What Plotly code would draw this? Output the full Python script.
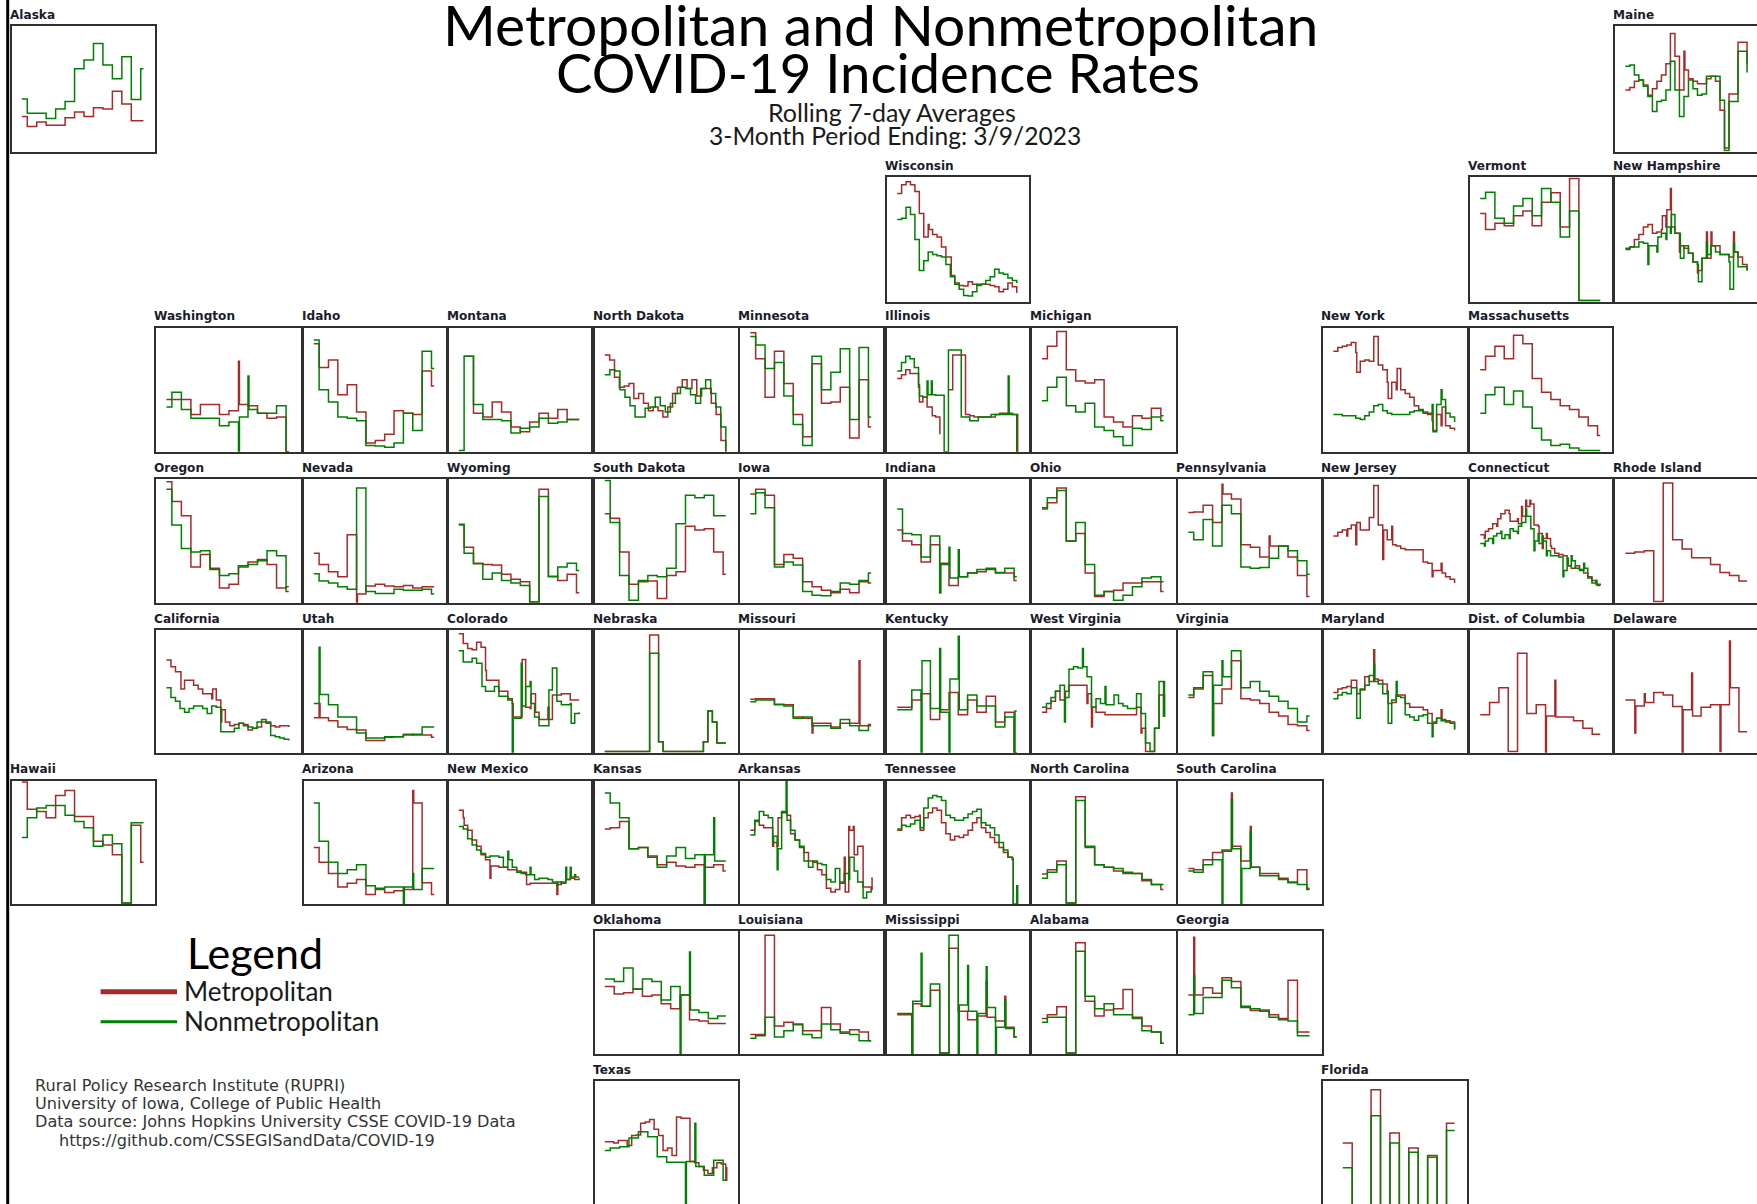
import plotly.graph_objects as go

W, H = 1757, 1204
METRO = "#A52A2A"
NONMETRO = "#008000"

ALASKA_M = [28,20,23.6,21,21,27,31.6,28,35,34,48,38,24.7,24.7]
ALASKA_N = [42,30.5,30.5,26.5,34,40,66,73,86,69,58,75.5,41.6,66]
MAINE_M = [49,51,56,57,53,45,50,56,61,70,94,76,49,(65,80),58,56,54,54,58,60,56,33,3,46,46,87,87,70]
MAINE_N = [68,69,61,57,52,44,32,40,41,49,72,49,28,44,57,50,45,46,60,60,60,41,1,40,40,80,80,63]
WISCONSIN_M = [87,94,96.5,94,88.5,71,52,(58,62),54,52,44,36,(21,36),15,13,12.6,16,14,13,14,14,13,12,8,10,15,12,7]
WISCONSIN_N = [66,67,76,70,50,25,33,40,38,37,36,30,20,14,10,5,4.5,8,14,14,17,20,26,23,22,19,17,15]
VERMONT_M = [71,58,63,61,69,73,61,80,87.5,60,99,1,1,1]
VERMONT_N = [83,88,67,63,77,83,69,91,80,52,73,1,1,1]
NEW_HAMPSHIRE_M = [42,44,50,54,60,62,55,56,(69,58),(74,60),(60,91),55,(45,40),43,39,32,(25,23),35,(35,56),(45,56),45,38,38,36,(40,56),36,30,25]
NEW_HAMPSHIRE_N = [43,44,44,48,47,(45,30),45,(52,40),55,(60,50),(70,55),55,(35,55),45,39,32,(16,30),35,(38,48),45,40,38,38,(10,32),(40,47),28,28,25]
WASHINGTON_M = [42,42,42,30,38,38,30,33,(38,73),37,31,27,28,0]
WASHINGTON_N = [36,48,34,27,27,27,21,24,(28,0),(34,61),31,31,37,0]
IDAHO_M = [87,68,74,46,54,32,7,9,14,33,31,30,65,53]
IDAHO_N = [90,50,40,28,27,25,5,4.5,3.5,7,31,17,81,67]
MONTANA_M = [None,77,31,28,40,32,20,16,24,31,27,34,26,26]
MONTANA_N = [1,77,38,26,26,25,15,19,20,27,23,24,26,26]
NORTH_DAKOTA_M = [78,74,60,52,53,55,43,47,39,33,36,33,28,36,47,52,58,51,58,45,51,51,39,30,9,0]
NORTH_DAKOTA_N = [62,66,65,50,44,37,28,28,35,36,44,37,32,39,47,52,51,46,39,51,58,47,36,20,0]
MINNESOTA_M = [96,75,44,81,55,30,12,71,39,40,52,11,58,20]
MINNESOTA_N = [93,86,67,72,45,22,5,77,50,64,83,26,84,28]
ILLINOIS_M = [59,62,66,63,63,(40,54),44,36,(29,36),28,14,None,(50,50),78,78,78,30,29,28,28,28,28,28,30,31,31,31,30,(30,0)]
ILLINOIS_N = [65,72,77,75,68,(45,52),44,(46,57),(46,57),45.5,45.5,0,82,82,82,28,28,25,25,28,28,28,30,30,30,30,(30,61),30,0]
MICHIGAN_M = [75,85,97,66,57,55.5,58,28,24,20,29,27,35,29]
MICHIGAN_N = [41,52,60,37,32,39,20,17,12,5,19,18,28,25]
NEW_YORK_M = [81,84,85,86,88,(64,80),73,74,73,93,70,66,(43,56),56,(67,50),50,47,44,37,34,32,30,(17,25),30,(36,21),21,19,17]
NEW_YORK_N = [30,30,29,29,29,27,26,29,32,37,38,33,31,30,30,30,30,32,33,33,31,31,(16,38),38,(42,50),31,28,24]
MASSACHUSETTS_M = [66,77,85,75,94,87,59,48,42,37,34,28,21,13]
MASSACHUSETTS_N = [31,46,52,38,49,36,19,9.5,5,6,3,1,1,1]
OREGON_M = [98,82,70.5,29,39,28,12,15,30,33,35,31,12,13]
OREGON_N = [92,63,44,41,42,27,22,23.5,29,31,34,42,38,9]
NEVADA_M = [40,31,25,21,55,(7,0),13.5,15,13.5,13,14,12,13,13]
NEVADA_N = [23.5,17.5,16,13,11,93,9,7.5,7.5,11,10,10,11,7]
WYOMING_M = [63,45,32,31,30.5,23,19,17,0.5,92,21.5,18,23,8]
WYOMING_N = [63.5,40,31.5,19,24,18,16,14,0.5,86,21,29,32,26]
SOUTH_DAKOTA_M = [72,68.5,41,15,17,17.5,3.5,22,25,62,59,60,41,23]
SOUTH_DAKOTA_N = [99,65,22,2,18,22,21,28,64,87,85,87,70.5,70.5]
IOWA_M = [88,92,87,31,39,36,17,13,10,8,11,8,17,16]
IOWA_N = [72,89,77,29,33,30.5,9,6,5.7,9,16,15,18,24]
INDIANA_M = [59,50,47,33,47,(32,8),14,21,24,25,27,24,24,18]
INDIANA_N = [76,56,55,37,54,(31,8),(20,45),(21,43),24,27,28,24.5,28,21]
OHIO_M = [76,81,93,50,56,24,5,9,10,16,16,17,17,9]
OHIO_N = [77,85,91,50,65,31,6,9,2,6,13,20,21,17]
PENNSYLVANIA_M = [73,73.5,79,65,(88,96),84,47,45,37,(46,54),46,37,22,5]
PENNSYLVANIA_N = [57,51,67.5,46,79,72,29,28,28.5,36,46,42,34,23]
NEW_JERSEY_M = [54,57,59,(60,54),63,(65,47),59,59,69,95,63,(59,35),51,(47,62),46,44,43,43,43,43,33,32,(26,21),26,(24,32),21,19,16]
NEW_JERSEY_N = []
CONNECTICUT_M = [55,(58,52),60,64,(68,62),72,75,(66,72),66,(64,68),(70,78),(78,83),(80,83),63,(56,62),(52,44),(52,56),(44,46),40,39,38,(30,36),28,30,27,24,21,18,15,14]
CONNECTICUT_N = [48,(50,46),52,(54,48),56,(52,58),55,(60,52),58,(62,56),65,(70,76),(60,70),(50,42),(48,56),(50,54),(42,38),38,38,37,(26,21),(30,36),(34,38),28,26,(28,32),20,16,(14,18),14]
RHODE_ISLAND_M = [40,41,42,1,97,51,43.5,36.5,36.5,31,24.5,22,17.5]
RHODE_ISLAND_N = []
CALIFORNIA_M = [75.5,70,66,(52,66),59,59,55,52,48,48,(52,44),43,(35,25),25,22,23,24,23,18.5,20,21,25,25,22,21,22,22,21]
CALIFORNIA_N = [53,45,42,36,33,36,38,38,36,32,38,37,17,17,17,20,24,22,21,20,25,27,24,14,13,12,11,10]
UTAH_M = [28.5,(28.5,40),26,21,19,18.5,10,10,12.5,13,15,14.5,14.5,12.5]
UTAH_N = [40,(47.5,86),39,29,29,16,12,12,13,13,14.5,15,21,21]
COLORADO_M = [97,89,85,84,90,86,(59,67),59,59,50,50,44,(29,40),29,(76,29),37,(48,36),(33,48),27,27,(27,37),47,47,48,48,43,43,43]
COLORADO_N = [83,74,74,77,73,(54,73),50,50,54,46,46,43,(28,0),28,(38,73),54,(40,58),29,22,22,(51,22),69,42,39,39,(24,40),32,33]
NEBRASKA_M = [1,1,1,1,1,1,1,1,1,1,96,96,9,1,1,1,1,1,1,1,1,1,9,34,25,8,8,8]
NEBRASKA_N = [1,1,1,1,1,1,1,1,1,1,81,81,9,1,1,1,1,1,1,1,1,1,9,34,25,8,8,8]
MISSOURI_M = [43.5,44,44,39,39,29,28,(24,16),24,21,24,24,(22,75),23]
MISSOURI_N = [41.6,43,43,39.5,38,28,29,22,22,20,27,22,18,22]
KENTUCKY_M = [37,37,43,48,27,35,49,31,43,33,46,25,33,0]
KENTUCKY_N = [35,35,51,(75,0),36,(33,85),(60,0),(35,95),47,38,38,21,29,(34,0)]
WEST_VIRGINIA_M = [33,36,42,50,43,(50,43),55,55,55,55,(48,40),(37,21),33,33,31,31,31,31,31,31,31,37,(20,16),1,1,20,47,(47,30)]
WEST_VIRGINIA_N = [37,40,45,50,55,(45,25),68,70,69,(70,85),62,37,44,40,(39,54),39,47,40,38,36,36,48,32,8,1,20,58,(58,30)]
VIRGINIA_M = [45,52,63,(40,14),52,75,44,43,40,33,30,23,22,18]
VIRGINIA_N = [47,53,66,(55,14),(62,75),83,53,58,50,46,42,36,25,30]
MARYLAND_M = [49,52,53,54,59,(48,59),51,62,58,(60,84),59,56,(40,50),41,47,47,40,37,37,37,35,32,25,28,(27,35),26,25,19]
MARYLAND_N = [44,47,49,48,53,(28,53),52,55,63,(58,72),56,48,(24,50),43,(46,58),45,31,29,26.5,30,31,24,(24,13),28,26,25,24,19]
DIST_OF_COLUMBIA_M = [31,41,53,1,81,32,39,(30,0),(29,59),29,26,20,15]
DIST_OF_COLUMBIA_N = []
DELAWARE_M = [43,(38,16),(41,48),49,47,37.6,(35,0),(30,65),37,39,(39,1),(53,91),17]
DELAWARE_N = []
HAWAII_M = [99,77,75,70,88,92,71,71,51,48,40,1,64,34]
HAWAII_N = [54,70,78,80,80,72,67,62,47,56,49,1,66,66]
ARIZONA_M = [46,34,25,14,17,20,8,12,9.5,11,12,(82,92),17.5,8]
ARIZONA_N = [82,51,34,25,28,32,15,13,14,14,(14,0),(12,25),29,29]
NEW_MEXICO_M = [76,(64,70),60,52,47,40,36,(31,21),31,30,30,28,28,27,26,(16,26),17,17,17,17,17,17,(16,8),18,20,21,20,21]
NEW_MEXICO_N = [63,61,53,48,44,41,38,39,39,38,30,(36,43),30,26,25,24,(24,30),20,21,21,20,18,(18,15),17,(20,30),(22,30),(22,24),22]
KANSAS_M = [61,62,67,45,46,39,32,34,31,30,32,(30,0),32,27]
KANSAS_N = [90,82,70,45,46,38,30,39,46,37,40,(40,0),(35,70),35]
ARKANSAS_M = [60,67,64,62,62,(50,47),(70,47),75,(72,75),57,52,46,42,35,34,28,24,13,10,12,17,(10,38),(60,63),(40,63),47,(14,47),14,(21,12)]
ARKANSAS_N = [56,68,75,72,70,(55,50),(45,28),74,(68,100),60,52,47,35,30,35,33,32,20,18,29,18,25,(38,20),(27,38),18,(5,18),10,12]
TENNESSEE_M = [60,70,72,70,71,(60,72),70,74,78,76,66,57,52,55,54,56,60,66,70,62,58,54,50,46,42,38,(0,36),0]
TENNESSEE_N = [61,64,63,65,68,(62,68),78,86,88,87,84,72,70,68,68,70,73,75,77,66,64,62,56,50,44,38,(0,37),(0,15)]
NORTH_CAROLINA_M = [24.5,28,35,1,87,46,32,30,27,25,25,19,16,12]
NORTH_CAROLINA_N = [21,26,32,1,84,47,32,30,29,26,25,20,16,16]
SOUTH_CAROLINA_M = [29,28,36,42,44,(47,90),35,(30,63),25,25,21,18,28,13]
SOUTH_CAROLINA_N = [27,26,32,36,(43,0),(45,85),(29,0),(30,59),23,23,20,17.5,16,12]
OKLAHOMA_M = [55,49,50,53,47,48,41,37,48,28,27,25,25]
OKLAHOMA_N = [61,59,70,53,61,59,44,55,(48,0),(36,83),34,29,31]
LOUISIANA_M = [16,16,96.5,23,26,24,19,19,38,24.5,18,20,18,11]
LOUISIANA_N = [13,15,30,14,19,24.5,16,13.5,24.5,20,17,16,11,11]
MISSISSIPPI_M = [32,32,(41,0),39,52,1,86,35,28,31,(30,59),27,(22,47),14]
MISSISSIPPI_N = [33,33,(43,0),(39,82),57,1,96.5,(40,0),(35,72),(33,0),(38,71),(22,0),(21,44),14]
ALABAMA_M = [29,32,38.5,1,90.5,43,31,36,37,52.5,30,23,18,9]
ALABAMA_N = [26,30,30,1,83.5,47,37,41,32,32,29,19,18,9]
GEORGIA_M = [48,(48,95),54,49.5,62,59,38,35.5,36,32,29,60,18,18]
GEORGIA_N = [32,(33,64),46,46,60,54,39,37,35,30,28,27,15,15]
TEXAS_M = [51,51,50,52,52,48,56,56.5,66,67,69,61,56,44,46,40,71,70,70,35,34,31,28,25.5,30,34,33,(30,20)]
TEXAS_N = [44,46,47,54,59,55,39,34.4,34.4,(35,0),(31,66),24,36,20]
FLORIDA_M = [None,50,0,0,93,0,58,0,46,0,38.5,0,66]
FLORIDA_N = [None,30,0,0,72,0,50,0,42.5,0,40,0,60]

COL_L = [11.5,156,303.5,448.5,594.5,740,887,1031.6,1178,1323,1470,1615]
COL_R = [155.4,300.8,446,591,737.7,883,1028.5,1175.5,1321.5,1466.5,1612,1759]
ROW_T = [26,177.3,327.7,479.3,630,780.7,931,1081]
ROW_B = [151.7,301.7,451.7,602.7,752.7,904.3,1054.3,1205]

PANELS = [
    ("Alaska",0,0,ALASKA_M,ALASKA_N),("Maine",0,11,MAINE_M,MAINE_N),
    ("Wisconsin",1,6,WISCONSIN_M,WISCONSIN_N),("Vermont",1,10,VERMONT_M,VERMONT_N),
    ("New Hampshire",1,11,NEW_HAMPSHIRE_M,NEW_HAMPSHIRE_N),
    ("Washington",2,1,WASHINGTON_M,WASHINGTON_N),("Idaho",2,2,IDAHO_M,IDAHO_N),
    ("Montana",2,3,MONTANA_M,MONTANA_N),("North Dakota",2,4,NORTH_DAKOTA_M,NORTH_DAKOTA_N),
    ("Minnesota",2,5,MINNESOTA_M,MINNESOTA_N),("Illinois",2,6,ILLINOIS_M,ILLINOIS_N),
    ("Michigan",2,7,MICHIGAN_M,MICHIGAN_N),("New York",2,9,NEW_YORK_M,NEW_YORK_N),
    ("Massachusetts",2,10,MASSACHUSETTS_M,MASSACHUSETTS_N),
    ("Oregon",3,1,OREGON_M,OREGON_N),("Nevada",3,2,NEVADA_M,NEVADA_N),
    ("Wyoming",3,3,WYOMING_M,WYOMING_N),("South Dakota",3,4,SOUTH_DAKOTA_M,SOUTH_DAKOTA_N),
    ("Iowa",3,5,IOWA_M,IOWA_N),("Indiana",3,6,INDIANA_M,INDIANA_N),("Ohio",3,7,OHIO_M,OHIO_N),
    ("Pennsylvania",3,8,PENNSYLVANIA_M,PENNSYLVANIA_N),("New Jersey",3,9,NEW_JERSEY_M,NEW_JERSEY_N),
    ("Connecticut",3,10,CONNECTICUT_M,CONNECTICUT_N),("Rhode Island",3,11,RHODE_ISLAND_M,RHODE_ISLAND_N),
    ("California",4,1,CALIFORNIA_M,CALIFORNIA_N),("Utah",4,2,UTAH_M,UTAH_N),
    ("Colorado",4,3,COLORADO_M,COLORADO_N),("Nebraska",4,4,NEBRASKA_M,NEBRASKA_N),
    ("Missouri",4,5,MISSOURI_M,MISSOURI_N),("Kentucky",4,6,KENTUCKY_M,KENTUCKY_N),
    ("West Virginia",4,7,WEST_VIRGINIA_M,WEST_VIRGINIA_N),("Virginia",4,8,VIRGINIA_M,VIRGINIA_N),
    ("Maryland",4,9,MARYLAND_M,MARYLAND_N),("Dist. of Columbia",4,10,DIST_OF_COLUMBIA_M,DIST_OF_COLUMBIA_N),
    ("Delaware",4,11,DELAWARE_M,DELAWARE_N),
    ("Hawaii",5,0,HAWAII_M,HAWAII_N),("Arizona",5,2,ARIZONA_M,ARIZONA_N),
    ("New Mexico",5,3,NEW_MEXICO_M,NEW_MEXICO_N),("Kansas",5,4,KANSAS_M,KANSAS_N),
    ("Arkansas",5,5,ARKANSAS_M,ARKANSAS_N),("Tennessee",5,6,TENNESSEE_M,TENNESSEE_N),
    ("North Carolina",5,7,NORTH_CAROLINA_M,NORTH_CAROLINA_N),("South Carolina",5,8,SOUTH_CAROLINA_M,SOUTH_CAROLINA_N),
    ("Oklahoma",6,4,OKLAHOMA_M,OKLAHOMA_N),("Louisiana",6,5,LOUISIANA_M,LOUISIANA_N),
    ("Mississippi",6,6,MISSISSIPPI_M,MISSISSIPPI_N),("Alabama",6,7,ALABAMA_M,ALABAMA_N),
    ("Georgia",6,8,GEORGIA_M,GEORGIA_N),
    ("Texas",7,4,TEXAS_M,TEXAS_N),("Florida",7,9,FLORIDA_M,FLORIDA_N),
]

DAYS = 90


def day_grid(n):
    if n == 14:
        return [0.0] + [4.0 + 7.0 * k for k in range(13)]
    if n == 13:
        return [7.0 * k for k in range(13)]
    return [DAYS * k / (n - 1) for k in range(n)]


def expand(values):
    """Turn a series into step-line points; (level, spike) adds a vertical spike at that day."""
    xs, ys = [], []
    if not values:
        return xs, ys
    grid = day_grid(len(values))
    for t, v in zip(grid, values):
        if isinstance(v, tuple):
            xs += [t, t + 0.7]
            ys += [v[1], v[0]]
        else:
            xs.append(t)
            ys.append(v)
    xs.append(DAYS)
    ys.append(ys[-1])
    return xs, ys


fig = go.Figure()
layout = {}
notes = []
LBL_FONT = dict(family="DejaVu Sans", size=12.1, color="#1c1c2c", weight="bold")

for i, (name, row, col, metro, nonmetro) in enumerate(PANELS, start=1):
    l, r = COL_L[col], COL_R[col]
    t, b = ROW_T[row], ROW_B[row]
    pw, ph = r - l, b - t
    r_c, b_c = min(r, W), min(b, H)
    ppd = 0.845 * pw / DAYS
    x_lo = -0.072 * pw / ppd
    x_hi = x_lo + (r_c - l) / ppd
    y_lo = 100 - (b_c - t) * 100 / ph
    sfx = "" if i == 1 else str(i)
    layout["xaxis" + sfx] = dict(
        domain=[l / W, r_c / W], range=[x_lo, x_hi], anchor="y" + sfx,
        showticklabels=False, ticks="", showgrid=False, zeroline=False,
        showline=True, linecolor="#303030", linewidth=1.5,
        mirror=b <= H, side="bottom" if b <= H else "top", fixedrange=True)
    layout["yaxis" + sfx] = dict(
        domain=[1 - b_c / H, 1 - t / H], range=[y_lo, 100], anchor="x" + sfx,
        showticklabels=False, ticks="", showgrid=False, zeroline=False,
        showline=True, linecolor="#303030", linewidth=1.5,
        mirror=r <= W, fixedrange=True)
    for series, colour, label in ((metro, METRO, "Metropolitan"), (nonmetro, NONMETRO, "Nonmetropolitan")):
        xs, ys = expand(series)
        if xs:
            fig.add_trace(go.Scatter(
                x=xs, y=ys, mode="lines", name=f"{name} {label}", showlegend=False,
                line=dict(color=colour, width=1.5, shape="hv"),
                xaxis="x" + sfx, yaxis="y" + sfx, connectgaps=False, hoverinfo="skip"))
    notes.append(dict(text=name, xref="paper", yref="paper", x=(l - 4) / W, y=1 - (t - 11.5) / H,
                      xanchor="left", yanchor="middle", showarrow=False, font=LBL_FONT))

CAL = "Lato"


def txt(s, x, y, size, anchor="center", color="#000000", family=CAL):
    notes.append(dict(text=s, xref="paper", yref="paper", x=x / W, y=1 - y / H, xanchor=anchor,
                      yanchor="middle", showarrow=False, font=dict(family=family, size=size, color=color)))


txt("Metropolitan and Nonmetropolitan", 880.5, 24, 57)
txt("COVID-19 Incidence Rates", 878, 72, 54.5)
txt("Rolling 7-day Averages", 892, 112, 25, color="#1a1a1a")
txt("3-Month Period Ending: 3/9/2023", 895, 135.5, 24.6, color="#1a1a1a")
txt("Legend", 255, 952, 43)
txt("Metropolitan", 181.5, 991, 26, "left", "#1a1a1a")
txt("Nonmetropolitan", 181.5, 1021, 26, "left", "#1a1a1a")
NOTE_FONT = "DejaVu Sans"
txt("Rural Policy Research Institute (RUPRI)", 33, 1085, 16.1, "left", "#333333", NOTE_FONT)
txt("University of Iowa, College of Public Health", 33, 1103, 16.1, "left", "#333333", NOTE_FONT)
txt("Data source: Johns Hopkins University CSSE COVID-19 Data", 33, 1121.5, 16.1, "left", "#333333", NOTE_FONT)
txt("https://github.com/CSSEGISandData/COVID-19", 57, 1140.5, 16.1, "left", "#333333", NOTE_FONT)

shapes = [
    dict(type="line", xref="paper", yref="paper", x0=7.7 / W, x1=7.7 / W, y0=0, y1=1,
         line=dict(color="#000000", width=3)),
    dict(type="line", xref="paper", yref="paper", x0=100.6 / W, x1=177 / W, y0=1 - 991.7 / H, y1=1 - 991.7 / H,
         line=dict(color=METRO, width=5)),
    dict(type="line", xref="paper", yref="paper", x0=100.6 / W, x1=177 / W, y0=1 - 1021.7 / H, y1=1 - 1021.7 / H,
         line=dict(color=NONMETRO, width=3)),
]

fig.update_layout(width=W, height=H, margin=dict(l=0, r=0, t=0, b=0, pad=0), paper_bgcolor="white",
                  plot_bgcolor="white", showlegend=False, annotations=notes, shapes=shapes, **layout)
fig.write_html("out.html", config={"displayModeBar": False},
               post_script="document.body.style.margin='0';document.body.style.overflow='hidden';")
